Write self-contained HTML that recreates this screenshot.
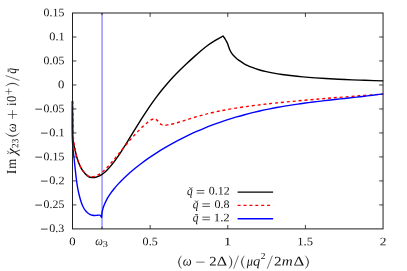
<!DOCTYPE html>
<html><head><meta charset="utf-8"><title>plot</title>
<style>html,body{margin:0;padding:0;background:#fff;overflow:hidden}body{width:407px;height:271px;position:relative;font-family:"Liberation Serif",serif}</style></head>
<body>
<svg width="407" height="271" viewBox="0 0 407 271" style="position:absolute;left:0;top:0">
<rect width="407" height="271" fill="#fff"/>
<line x1="102.05" x2="102.05" y1="13.00" y2="228.90" stroke="#0000ff" stroke-opacity="0.42" stroke-width="1.5"/>
<path d="M72.50,36.99h3.9M383.05,36.99h-3.9M72.50,60.98h3.9M383.05,60.98h-3.9M72.50,84.97h3.9M383.05,84.97h-3.9M72.50,108.96h3.9M383.05,108.96h-3.9M72.50,132.94h3.9M383.05,132.94h-3.9M72.50,156.93h3.9M383.05,156.93h-3.9M72.50,180.92h3.9M383.05,180.92h-3.9M72.50,204.91h3.9M383.05,204.91h-3.9M150.14,228.90v-3.9M150.14,13.00v3.9M227.78,228.90v-3.9M227.78,13.00v3.9M305.41,228.90v-3.9M305.41,13.00v3.9M102.05,228.90v-2.2M102.05,13.00v2.2" stroke="#000" stroke-width="0.75" fill="none"/>
<path d="M72.50,101.00 C72.52,102.83 72.55,108.00 72.60,112.00 C72.65,116.00 72.73,120.33 72.80,125.00 C72.87,129.67 72.60,135.78 73.00,140.00 C73.40,144.22 74.47,147.10 75.20,150.30 C75.93,153.50 76.42,156.23 77.40,159.20 C78.38,162.17 79.87,165.77 81.10,168.10 C82.33,170.43 83.57,171.78 84.80,173.20 C86.03,174.62 87.27,175.88 88.50,176.60 C89.73,177.32 90.98,177.41 92.20,177.52 C93.42,177.63 94.58,177.54 95.80,177.27 C97.02,177.00 98.27,176.52 99.50,175.89 C100.73,175.25 101.97,174.43 103.20,173.48 C104.43,172.53 105.42,171.72 106.90,170.19 C108.38,168.67 110.37,166.47 112.10,164.32 C113.83,162.18 115.70,159.58 117.30,157.32 C118.90,155.06 120.10,153.23 121.70,150.76 C123.30,148.30 125.18,145.29 126.90,142.54 C128.62,139.79 130.27,137.06 132.00,134.24 C133.73,131.41 135.63,128.29 137.30,125.60 C138.97,122.91 140.40,120.61 142.00,118.10 C143.60,115.59 145.23,113.06 146.90,110.56 C148.57,108.07 150.27,105.57 152.00,103.12 C153.73,100.66 155.68,98.01 157.30,95.86 C158.92,93.71 160.23,92.05 161.70,90.23 C163.17,88.41 164.27,87.04 166.10,84.93 C167.93,82.82 170.47,79.96 172.70,77.57 C174.93,75.17 177.15,72.91 179.50,70.57 C181.85,68.22 184.33,65.84 186.80,63.52 C189.27,61.20 192.12,58.61 194.30,56.64 C196.48,54.67 197.75,53.53 199.90,51.72 C202.05,49.90 204.63,47.64 207.20,45.76 C209.77,43.87 212.66,42.02 215.30,40.40 C217.94,38.77 221.76,36.73 223.05,36.00L223.05,36.00 C223.29,36.33 224.01,37.25 224.50,38.00 C224.99,38.75 225.53,39.67 226.00,40.50 C226.47,41.33 226.87,41.98 227.30,43.00 C227.73,44.02 228.13,45.35 228.60,46.60 C229.07,47.85 229.45,49.20 230.10,50.50 C230.75,51.80 231.62,53.25 232.50,54.40 C233.38,55.55 234.32,56.38 235.40,57.39 C236.48,58.39 237.53,59.37 239.00,60.43 C240.47,61.50 242.78,62.95 244.20,63.79 C245.62,64.63 246.28,64.91 247.50,65.48 C248.72,66.04 249.60,66.49 251.50,67.20 C253.40,67.90 256.43,68.97 258.90,69.71 C261.37,70.44 263.83,71.05 266.30,71.61 C268.77,72.18 271.08,72.64 273.70,73.12 C276.32,73.59 279.23,74.06 282.00,74.46 C284.77,74.87 286.83,75.15 290.30,75.55 C293.77,75.94 298.62,76.46 302.80,76.84 C306.98,77.23 310.87,77.53 315.40,77.85 C319.93,78.18 325.10,78.50 330.00,78.78 C334.90,79.05 339.88,79.29 344.80,79.52 C349.72,79.74 354.58,79.93 359.50,80.11 C364.42,80.29 370.35,80.48 374.30,80.61 C378.25,80.73 381.72,80.82 383.20,80.87" stroke="#000" stroke-width="1.4" fill="none" stroke-linejoin="round"/>
<path d="M72.60,101.00 C72.65,102.83 72.82,108.00 72.90,112.00 C72.98,116.00 73.02,120.67 73.10,125.00 C73.18,129.33 73.05,133.78 73.40,138.00 C73.75,142.22 74.53,146.77 75.20,150.30 C75.87,153.83 76.42,156.25 77.40,159.20 C78.38,162.15 79.87,165.72 81.10,168.00 C82.33,170.28 83.65,171.60 84.80,172.90 C85.95,174.20 86.97,175.15 88.00,175.80 C89.03,176.45 89.83,176.73 91.00,176.81 C92.17,176.89 93.58,176.74 95.00,176.28 C96.42,175.82 98.13,174.89 99.50,174.05 C100.87,173.20 101.97,172.26 103.20,171.19 C104.43,170.13 105.68,168.90 106.90,167.66 C108.12,166.41 109.27,165.14 110.50,163.74 C111.73,162.34 113.05,160.76 114.30,159.26 C115.55,157.75 116.77,156.24 118.00,154.71 C119.23,153.19 120.22,151.94 121.70,150.11 C123.18,148.28 125.35,145.60 126.90,143.74 C128.45,141.87 129.58,140.54 131.00,138.92 C132.42,137.31 133.90,135.65 135.40,134.05 C136.90,132.45 138.57,130.74 140.00,129.32 C141.43,127.90 142.72,126.70 144.00,125.52 C145.28,124.34 146.53,123.18 147.70,122.24 C148.87,121.30 149.88,120.49 151.00,119.90 C152.12,119.31 153.83,118.90 154.40,118.70L154.40,118.70 C154.70,118.85 155.58,119.18 156.20,119.60 C156.82,120.02 157.53,120.63 158.10,121.20 C158.67,121.77 159.10,122.45 159.60,123.00 C160.10,123.55 160.57,124.15 161.10,124.50 C161.63,124.85 162.18,124.97 162.80,125.10 C163.42,125.23 163.85,125.37 164.80,125.30 C165.75,125.23 167.03,124.97 168.50,124.71 C169.97,124.44 171.77,124.16 173.60,123.72 C175.43,123.27 177.52,122.64 179.50,122.04 C181.48,121.44 183.52,120.77 185.50,120.14 C187.48,119.51 189.43,118.88 191.40,118.27 C193.37,117.67 195.33,117.07 197.30,116.50 C199.27,115.94 201.42,115.35 203.20,114.87 C204.98,114.39 205.23,114.29 208.00,113.64 C210.77,112.99 215.38,111.88 219.80,111.00 C224.22,110.11 229.58,109.13 234.50,108.33 C239.42,107.52 244.62,106.79 249.30,106.15 C253.98,105.51 258.35,104.99 262.60,104.49 C266.85,103.99 270.32,103.61 274.80,103.14 C279.28,102.67 284.58,102.14 289.50,101.66 C294.42,101.19 299.37,100.74 304.30,100.30 C309.23,99.86 314.57,99.40 319.10,99.02 C323.63,98.63 327.22,98.34 331.50,97.99 C335.78,97.64 340.13,97.29 344.80,96.93 C349.47,96.57 354.58,96.17 359.50,95.81 C364.42,95.44 370.35,95.00 374.30,94.72 C378.25,94.43 381.72,94.19 383.20,94.09" stroke="#ff0000" stroke-width="1.4" fill="none" stroke-dasharray="3,2.9" stroke-linejoin="round"/>
<path d="M72.40,101.00 C72.36,103.33 72.19,110.17 72.15,115.00 C72.11,119.83 72.11,125.83 72.15,130.00 C72.19,134.17 72.26,137.00 72.40,140.00 C72.54,143.00 72.78,145.53 73.00,148.00 C73.22,150.47 73.35,151.47 73.70,154.80 C74.05,158.13 74.65,163.88 75.10,168.00 C75.55,172.12 75.98,176.23 76.40,179.50 C76.82,182.77 77.12,184.93 77.60,187.60 C78.08,190.27 78.67,192.98 79.30,195.50 C79.93,198.02 80.75,200.78 81.40,202.70 C82.05,204.62 82.58,205.75 83.20,207.00 C83.82,208.25 84.38,209.23 85.10,210.20 C85.82,211.17 86.65,212.07 87.50,212.80 C88.35,213.53 89.33,214.18 90.20,214.60 C91.07,215.02 91.98,215.15 92.70,215.30 C93.42,215.45 93.87,215.48 94.50,215.50 C95.13,215.52 95.83,215.47 96.50,215.40 C97.17,215.33 97.95,215.13 98.50,215.10 C99.05,215.07 99.42,215.05 99.80,215.20 C100.18,215.35 100.50,215.62 100.80,216.00 C101.10,216.38 101.47,217.25 101.60,217.50L101.60,217.50 C101.65,216.81 101.78,214.44 101.90,213.38 C102.02,212.32 102.15,211.85 102.30,211.14 C102.45,210.43 102.58,209.87 102.80,209.11 C103.02,208.35 103.30,207.42 103.60,206.57 C103.90,205.72 104.18,204.96 104.60,204.00 C105.02,203.04 105.52,201.94 106.10,200.81 C106.68,199.68 107.35,198.47 108.10,197.23 C108.85,196.00 109.60,194.82 110.60,193.40 C111.60,191.99 112.85,190.31 114.10,188.76 C115.35,187.21 116.68,185.66 118.10,184.11 C119.52,182.55 121.02,180.99 122.60,179.42 C124.18,177.85 125.77,176.34 127.60,174.68 C129.43,173.03 131.43,171.28 133.60,169.49 C135.77,167.70 138.10,165.84 140.60,163.95 C143.10,162.06 145.93,160.00 148.60,158.15 C151.27,156.29 153.93,154.53 156.60,152.81 C159.27,151.10 161.93,149.47 164.60,147.88 C167.27,146.30 169.93,144.78 172.60,143.31 C175.27,141.84 177.93,140.42 180.60,139.06 C183.27,137.69 185.93,136.38 188.60,135.12 C191.27,133.85 193.93,132.63 196.60,131.46 C199.27,130.29 201.93,129.16 204.60,128.07 C207.27,126.98 209.93,125.94 212.60,124.94 C215.27,123.94 217.93,122.97 220.60,122.05 C223.27,121.13 225.93,120.24 228.60,119.39 C231.27,118.54 233.93,117.73 236.60,116.95 C239.27,116.17 241.93,115.43 244.60,114.71 C247.27,114.00 249.93,113.32 252.60,112.67 C255.27,112.02 257.93,111.40 260.60,110.80 C263.27,110.21 265.93,109.65 268.60,109.11 C271.27,108.57 273.93,108.05 276.60,107.56 C279.27,107.07 281.93,106.60 284.60,106.15 C287.27,105.71 289.93,105.28 292.60,104.87 C295.27,104.46 297.93,104.07 300.60,103.70 C303.27,103.32 305.93,102.96 308.60,102.61 C311.27,102.27 313.93,101.93 316.60,101.61 C319.27,101.28 321.93,100.97 324.60,100.66 C327.27,100.36 329.93,100.06 332.60,99.76 C335.27,99.46 337.93,99.17 340.60,98.88 C343.27,98.59 345.93,98.30 348.60,98.01 C351.27,97.72 353.93,97.43 356.60,97.13 C359.27,96.83 361.93,96.53 364.60,96.22 C367.27,95.90 369.50,95.64 372.60,95.25 C375.70,94.86 381.43,94.09 383.20,93.86" stroke="#0000ff" stroke-width="1.4" fill="none" stroke-linejoin="round"/>
<rect x="72.50" y="13.00" width="310.55" height="215.90" fill="none" stroke="#141414" stroke-width="0.95"/>
<path d="M237.6,192.1H273.1" stroke="#000" stroke-width="1.4"/>
<path d="M237.6,205.4H273.1" stroke="#ff0000" stroke-width="1.4" stroke-dasharray="3,2.9"/>
<path d="M237.6,218.7H273.1" stroke="#0000ff" stroke-width="1.4"/>
<g font-family="Liberation Serif" fill="#111" stroke="none" opacity="0.999" text-rendering="geometricPrecision">
<g>
<text transform="translate(43.60,16.20) rotate(0.05) scale(1.029,1.000)" font-size="11.50">0.15</text>
<text transform="translate(49.23,40.19) rotate(0.05) scale(1.069,1.000)" font-size="11.50">0.1</text>
<text transform="translate(43.60,64.18) rotate(0.05) scale(1.029,1.000)" font-size="11.50">0.05</text>
<text transform="translate(58.01,88.17) rotate(0.05) scale(1.101,1.000)" font-size="11.50">0</text>
<text transform="translate(43.60,112.16) rotate(0.05) scale(1.029,1.000)" font-size="11.50">0.05</text>
<path d="M35.31,109.16H42.01" stroke="#111" stroke-width="0.80" fill="none"/>
<text transform="translate(49.23,136.14) rotate(0.05) scale(1.069,1.000)" font-size="11.50">0.1</text>
<path d="M40.96,133.14H47.66" stroke="#111" stroke-width="0.80" fill="none"/>
<text transform="translate(43.60,160.13) rotate(0.05) scale(1.029,1.000)" font-size="11.50">0.15</text>
<path d="M35.31,157.13H42.01" stroke="#111" stroke-width="0.80" fill="none"/>
<text transform="translate(49.23,184.12) rotate(0.05) scale(1.065,1.000)" font-size="11.50">0.2</text>
<path d="M40.96,181.12H47.66" stroke="#111" stroke-width="0.80" fill="none"/>
<text transform="translate(43.60,208.11) rotate(0.05) scale(1.029,1.000)" font-size="11.50">0.25</text>
<path d="M35.31,205.11H42.01" stroke="#111" stroke-width="0.80" fill="none"/>
<text transform="translate(49.24,232.10) rotate(0.05) scale(1.049,1.000)" font-size="11.50">0.3</text>
<path d="M40.96,229.10H47.66" stroke="#111" stroke-width="0.80" fill="none"/>
<text transform="translate(69.33,245.20) rotate(0.05) scale(1.101,1.000)" font-size="11.50">0</text>
<text transform="translate(142.60,245.20) rotate(0.05) scale(1.049,1.000)" font-size="11.50">0.5</text>
<text transform="translate(223.72,245.20) rotate(0.05) scale(1.329,1.000)" font-size="11.50">1</text>
<text transform="translate(297.19,245.20) rotate(0.05) scale(1.098,1.000)" font-size="11.50">1.5</text>
<text transform="translate(379.74,245.20) rotate(0.05) scale(1.172,1.000)" font-size="11.50">2</text>
<text transform="translate(95.24,245.10) rotate(0.05) scale(0.889,1.000)" font-size="12.10" font-style="italic">ω</text>
<text transform="translate(102.44,246.80) rotate(0.05) scale(1.314,1.000)" font-size="8.28">3</text>
<text transform="translate(208.79,194.60) rotate(0.05) scale(1.040,1.000)" font-size="11.50">0.12</text>
<path d="M196.71,190.56H204.31M196.71,193.14H204.31" stroke="#111" stroke-width="0.70" fill="none"/>
<text transform="translate(187.04,194.90) rotate(0.05) scale(0.927,1.000)" font-size="12.30" font-style="italic">q</text>
<path d="M189.41,187.20l1.50,1.60l1.50,-1.60" stroke="#111" stroke-width="0.75" fill="none"/>
<text transform="translate(214.44,207.90) rotate(0.05) scale(1.049,1.000)" font-size="11.50">0.8</text>
<path d="M202.36,203.86H209.96M202.36,206.44H209.96" stroke="#111" stroke-width="0.70" fill="none"/>
<text transform="translate(192.69,208.20) rotate(0.05) scale(0.927,1.000)" font-size="12.30" font-style="italic">q</text>
<path d="M195.06,200.50l1.50,1.60l1.50,-1.60" stroke="#111" stroke-width="0.75" fill="none"/>
<text transform="translate(213.74,221.20) rotate(0.05) scale(1.115,1.000)" font-size="11.50">1.2</text>
<path d="M202.36,217.16H209.96M202.36,219.74H209.96" stroke="#111" stroke-width="0.70" fill="none"/>
<text transform="translate(192.69,221.50) rotate(0.05) scale(0.927,1.000)" font-size="12.30" font-style="italic">q</text>
<path d="M195.06,214.60h3.00" stroke="#111" stroke-width="0.75" fill="none"/>
</g>
<g>
<path d="M181.50,255.65Q175.10,262.15 181.50,268.65Q176.60,262.15 181.50,255.65Z" fill="#111" stroke="#111" stroke-width="0.25"/>
<text transform="translate(182.70,265.40) rotate(0.05) scale(0.965,1.000)" font-size="13.10" font-style="italic">ω</text>
<path d="M196.20,262.15H204.60" stroke="#111" stroke-width="0.60" fill="none"/>
<text transform="translate(209.34,265.40) rotate(0.05) scale(1.122,1.000)" font-size="13.10">2</text>
<text transform="translate(216.80,265.40) rotate(0.05) scale(1.228,1.000)" font-size="13.10">Δ</text>
<path d="M229.00,255.65Q235.40,262.15 229.00,268.65Q233.90,262.15 229.00,255.65Z" fill="#111" stroke="#111" stroke-width="0.25"/>
<path d="M233.60,268.65L238.50,255.65" stroke="#111" stroke-width="0.60" fill="none"/>
<path d="M244.40,255.65Q238.00,262.15 244.40,268.65Q239.50,262.15 244.40,255.65Z" fill="#111" stroke="#111" stroke-width="0.25"/>
<text transform="translate(246.69,265.40) rotate(0.05) scale(0.946,1.000)" font-size="13.10" font-style="italic">μ</text>
<text transform="translate(253.04,265.40) rotate(0.05) scale(1.112,1.000)" font-size="13.10" font-style="italic">q</text>
<text transform="translate(260.79,258.90) rotate(0.05) scale(1.027,1.000)" font-size="9.17">2</text>
<path d="M267.20,268.65L272.40,255.65" stroke="#111" stroke-width="0.60" fill="none"/>
<text transform="translate(273.93,265.40) rotate(0.05) scale(1.158,1.000)" font-size="13.10">2</text>
<text transform="translate(281.72,265.40) rotate(0.05) scale(1.163,1.000)" font-size="13.10" font-style="italic">m</text>
<text transform="translate(293.38,265.40) rotate(0.05) scale(1.281,1.000)" font-size="13.10">Δ</text>
<path d="M305.40,255.65Q312.20,262.15 305.40,268.65Q310.70,262.15 305.40,255.65Z" fill="#111" stroke="#111" stroke-width="0.25"/>
</g>
<g transform="translate(15.9,174.0) rotate(-90)">
<text transform="translate(-0.22,0.00) rotate(0.05) scale(1.031,1.055)" font-size="13.10">I</text>
<text transform="translate(5.30,0.00) rotate(0.05) scale(0.967,1.055)" font-size="13.10">m</text>
<text transform="translate(19.03,0.53) rotate(0.05) scale(1.116,1.055)" font-size="13.70" font-style="italic">χ</text>
<text transform="translate(26.10,2.43) rotate(0.05) scale(0.996,1.055)" font-size="9.17">23</text>
<path d="M40.80,-10.29Q34.20,-3.43 40.80,3.43Q35.70,-3.43 40.80,-10.29Z" fill="#111" stroke="#111" stroke-width="0.25"/>
<text transform="translate(41.80,0.00) rotate(0.05) scale(0.965,1.055)" font-size="13.10" font-style="italic">ω</text>
<path d="M55.10,-3.43H63.90M59.50,-8.07V1.21" stroke="#111" stroke-width="0.60" fill="none"/>
<text transform="translate(68.33,0.00) rotate(0.05) scale(0.855,1.055)" font-size="13.10">i</text>
<text transform="translate(72.01,0.00) rotate(0.05) scale(0.960,1.055)" font-size="13.10">0</text>
<path d="M79.40,-7.20H85.50M82.45,-10.42V-3.98" stroke="#111" stroke-width="0.50" fill="none"/>
<path d="M88.10,-10.29Q94.10,-3.43 88.10,3.43Q92.60,-3.43 88.10,-10.29Z" fill="#111" stroke="#111" stroke-width="0.25"/>
<path d="M93.60,3.43L98.50,-10.29" stroke="#111" stroke-width="0.60" fill="none"/>
<text transform="translate(100.13,0.00) rotate(0.05) scale(0.893,1.055)" font-size="13.10" font-style="italic">q</text>
<path d="M101.90,-7.70h3.40" stroke="#111" stroke-width="0.75" fill="none"/>
<path d="M20.00,-8.61l1.60,1.60l1.60,-1.60" stroke="#111" stroke-width="0.75" fill="none"/>
</g>
</g>
</svg>
</body></html>
